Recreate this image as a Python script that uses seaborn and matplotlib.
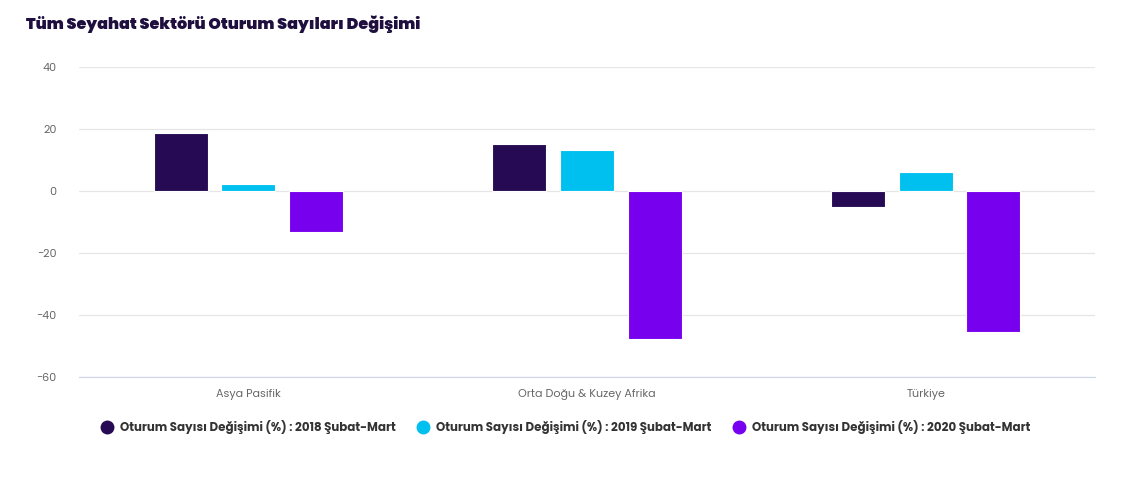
import pandas as pd
import numpy as np
import matplotlib.pyplot as plt
import seaborn as sns
from matplotlib.lines import Line2D

regions = ['Asya Pasifik', 'Orta Doğu & Kuzey Afrika', 'Türkiye']
series = ['Oturum Sayısı Değişimi (%) : 2018 Şubat-Mart',
          'Oturum Sayısı Değişimi (%) : 2019 Şubat-Mart',
          'Oturum Sayısı Değişimi (%) : 2020 Şubat-Mart']
v2018 = [18.8, 15.2, -5.2]
v2019 = [2.3, 13.3, 6.2]
v2020 = [-13.3, -47.6, -45.4]
colors = ['#260b54', '#00c0f0', '#7700ee']
yticks = [40, 20, 0, -20, -40, -60]

df = pd.DataFrame({'Bölge': regions * 3,
                   'Seri': [s for s in series for _ in regions],
                   'Değer': v2018 + v2019 + v2020})

sns.set_style('white')
plt.rcParams['font.family'] = ['Poppins', 'Inter', 'DejaVu Sans']

fig = plt.figure(figsize=(11.31, 4.82), dpi=100)
ax = fig.add_axes([79 / 1131, 1 - 377 / 482, (1095 - 79) / 1131, (377 - 67) / 482])

sns.barplot(data=df, x='Bölge', y='Değer', hue='Seri', palette=colors,
            width=0.6, gap=0.2, ax=ax, legend=False, saturation=1,
            edgecolor='white', linewidth=0.8, zorder=3)

ax.set_xlim(-0.5, 2.5)
ax.set_ylim(-60, 40)
ax.set_yticks(yticks)
ax.set_yticklabels(['−' + str(abs(t)) if t < 0 else str(t) for t in yticks],
                   color='#666666', fontsize=8)
ax.tick_params(axis='x', colors='#666666', labelsize=8, length=0, pad=9)
ax.tick_params(axis='y', length=0, pad=16)
ax.grid(axis='y', color='#e6e6e6', linewidth=0.9, zorder=0)
for s in ['top', 'right', 'left']:
    ax.spines[s].set_visible(False)
ax.spines['bottom'].set_color('#ccd6eb')
ax.spines['bottom'].set_position(('data', -60))
ax.set_xlabel(None)
ax.set_ylabel(None)

fig.text(26 / 1131, 1 - 24 / 482, 'Tüm Seyahat Sektörü Oturum Sayıları Değişimi',
         fontsize=11.4, fontweight='black', color='#1f0f3f', va='center')

handles = [Line2D([0], [0], marker='o', linestyle='', markersize=9,
                  markerfacecolor=c, markeredgecolor=c) for c in colors]
fig.legend(handles, series, loc='center left', bbox_to_anchor=(101 / 1131, 1 - 427 / 482),
           ncol=3, frameon=False, handlelength=1.0, handletextpad=0.6, columnspacing=1.85,
           borderaxespad=0, borderpad=0,
           prop={'weight': 'bold', 'size': 8.5}, labelcolor='#333333')

plt.savefig('out.png', dpi=100)
